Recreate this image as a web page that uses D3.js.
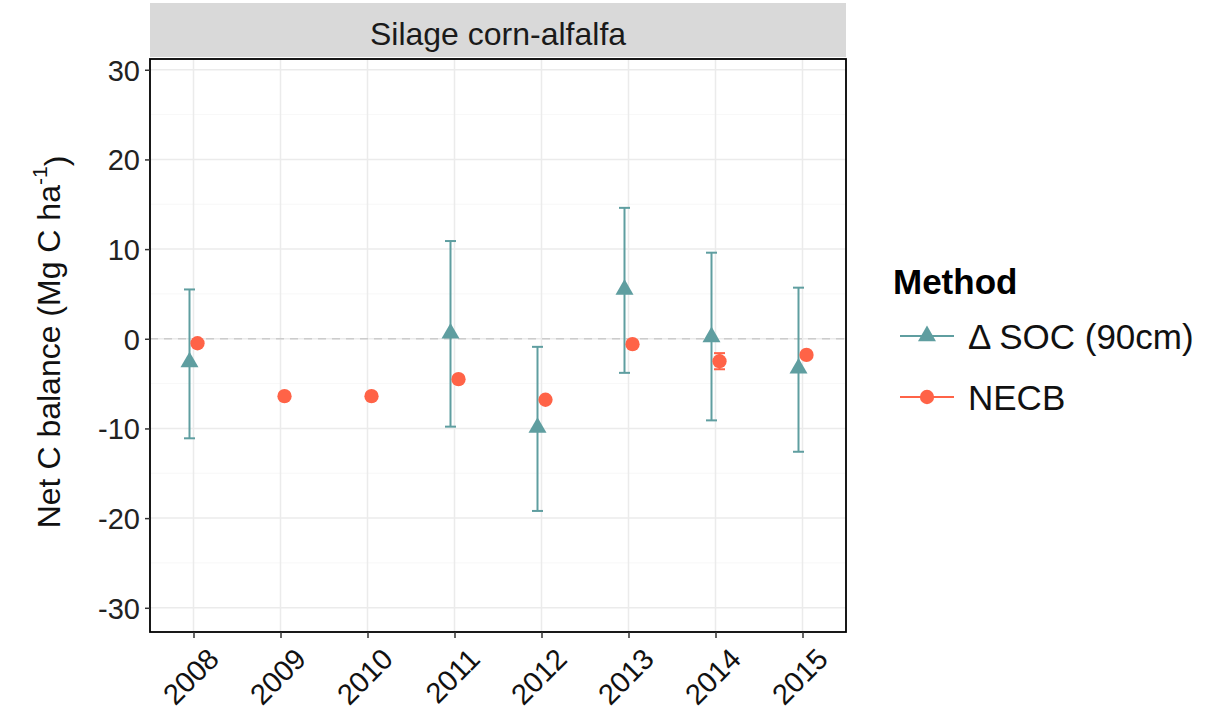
<!DOCTYPE html>
<html>
<head>
<meta charset="utf-8">
<script src="https://cdn.jsdelivr.net/npm/d3@7"></script>
<style>
  body { margin: 0; background: #fff; }
  text { font-family: "Liberation Sans", Arial, sans-serif; }
</style>
</head>
<body>
<div id="chart"></div>
<script>
// data
const years = ["2008", "2009", "2010", "2011", "2012", "2013", "2014", "2015"];
const socMean = [-2.6, null, null, 0.6, -9.9, 5.5, 0.2, -3.3];
const socLow = [-11.1, null, null, -9.8, -19.2, -3.8, -9.1, -12.6];
const socHigh = [5.5, null, null, 10.9, -0.9, 14.6, 9.6, 5.7];
const necbMean = [-0.5, -6.4, -6.4, -4.5, -6.8, -0.6, -2.5, -1.8];
const necbLow = [-0.7, -6.6, -6.6, -4.7, -7.0, -0.8, -3.4, -2.0];
const necbHigh = [-0.3, -6.2, -6.2, -4.3, -6.6, -0.4, -1.6, -1.6];
const yTicks = [-30, -20, -10, 0, 10, 20, 30];

const W = 1223, H = 714;
const panel = {left: 150, right: 846, top: 59, bottom: 632};
const socColor = "#5F9EA0", necbColor = "#FF6347";
const font = "Liberation Sans, Arial, sans-serif";

const svg = d3.select("#chart").append("svg")
    .attr("width", W)
    .attr("height", H);

const x = d3.scalePoint().domain(years).range([panel.left, panel.right]).padding(0.5);
const y = d3.scaleLinear().domain([-32.7, 31.2]).range([panel.bottom, panel.top]);
const dodge = 4;

// strip
svg.append("rect")
    .attr("x", panel.left).attr("y", 3)
    .attr("width", panel.right - panel.left).attr("height", panel.top - 5)
    .attr("fill", "#d9d9d9");
svg.append("text")
    .attr("x", (panel.left + panel.right) / 2).attr("y", 45)
    .attr("text-anchor", "middle")
    .style("font-size", "32px").attr("fill", "#1a1a1a")
    .text("Silage corn-alfalfa");

// grid
const grid = svg.append("g");
d3.range(-25, 31, 10).forEach(function(t){
    grid.append("line")
        .attr("x1", panel.left).attr("x2", panel.right)
        .attr("y1", y(t)).attr("y2", y(t))
        .attr("stroke", "#f5f5f5").attr("stroke-width", 0.8);
});
yTicks.forEach(function(t){
    grid.append("line")
        .attr("x1", panel.left).attr("x2", panel.right)
        .attr("y1", y(t)).attr("y2", y(t))
        .attr("stroke", "#ebebeb").attr("stroke-width", 1.5);
});
years.forEach(function(yr){
    grid.append("line")
        .attr("x1", x(yr)).attr("x2", x(yr))
        .attr("y1", panel.top).attr("y2", panel.bottom)
        .attr("stroke", "#ebebeb").attr("stroke-width", 1.5);
});

// zero line
svg.append("line")
    .attr("x1", panel.left).attr("x2", panel.right)
    .attr("y1", y(0)).attr("y2", y(0))
    .attr("stroke", "#cccccc").attr("stroke-width", 1.3)
    .attr("stroke-dasharray", "8,6");

// error bars
function errorBars(mean, lo, hi, color, off, capW){
    years.forEach(function(yr, i){
        if(mean[i] === null) return;
        const cx = x(yr) + off;
        const g = svg.append("g").attr("stroke", color).attr("stroke-width", 2);
        g.append("line").attr("x1", cx).attr("x2", cx).attr("y1", y(lo[i])).attr("y2", y(hi[i]));
        g.append("line").attr("x1", cx - capW).attr("x2", cx + capW).attr("y1", y(lo[i])).attr("y2", y(lo[i]));
        g.append("line").attr("x1", cx - capW).attr("x2", cx + capW).attr("y1", y(hi[i])).attr("y2", y(hi[i]));
    });
}
errorBars(socMean, socLow, socHigh, socColor, -dodge, 5.5);
errorBars(necbMean, necbLow, necbHigh, necbColor, dodge, 5.5);

const tri = d3.symbol().type(d3.symbolTriangle).size(140);
const circ = d3.symbol().type(d3.symbolCircle).size(160);

years.forEach(function(yr, i){
    if(socMean[i] === null) return;
    svg.append("path")
        .attr("d", tri)
        .attr("transform", "translate(" + (x(yr) - dodge) + "," + y(socMean[i]) + ")")
        .attr("fill", socColor);
});
years.forEach(function(yr, i){
    svg.append("path")
        .attr("d", circ)
        .attr("transform", "translate(" + (x(yr) + dodge) + "," + y(necbMean[i]) + ")")
        .attr("fill", necbColor);
});

// panel border
svg.append("rect")
    .attr("x", panel.left).attr("y", panel.top)
    .attr("width", panel.right - panel.left).attr("height", panel.bottom - panel.top)
    .attr("fill", "none").attr("stroke", "#000").attr("stroke-width", 1.8);

// axes
const yAxis = svg.append("g")
    .attr("transform", "translate(" + panel.left + ",0)")
    .call(d3.axisLeft(y).tickValues(yTicks).tickSize(5).tickPadding(5)
        .tickFormat(function(d){ return String(d); }));
yAxis.select(".domain").remove();
yAxis.selectAll("line").attr("stroke", "#333").attr("stroke-width", 1.5);
yAxis.selectAll("text").style("font-size", "29px").attr("fill", "#222").attr("font-family", font)
    .attr("dy", "0.36em");

const xAxis = svg.append("g")
    .attr("transform", "translate(0," + panel.bottom + ")")
    .call(d3.axisBottom(x).tickSize(6).tickPadding(4));
xAxis.select(".domain").remove();
xAxis.selectAll("line").attr("stroke", "#333").attr("stroke-width", 1.5);
xAxis.selectAll("text")
    .style("font-size", "29px").attr("fill", "#111").attr("font-family", font)
    .attr("text-anchor", "end")
    .attr("y", 0)
    .attr("dy", "0.72em")
    .attr("transform", "translate(12,14) rotate(-45)");

// y title
const yt = svg.append("text")
    .attr("transform", "translate(60,342) rotate(-90)")
    .attr("text-anchor", "middle")
    .style("font-size", "32px").attr("fill", "#111");
yt.append("tspan").text("Net C balance (Mg C ha");
yt.append("tspan").attr("dy", "-0.6em").style("font-size", "21px").text("-1");
yt.append("tspan").attr("dy", "0.6em").text(")");

// legend
const lg = svg.append("g");
lg.append("text").attr("x", 893).attr("y", 294)
    .style("font-size", "35px").style("font-weight", "bold").attr("fill", "#000")
    .text("Method");
const items = [
    {label: "\u0394 SOC (90cm)", color: socColor, sym: tri, y: 336},
    {label: "NECB", color: necbColor, sym: circ, y: 397}
];
items.forEach(function(d){
    lg.append("line").attr("x1", 900).attr("x2", 954).attr("y1", d.y).attr("y2", d.y)
        .attr("stroke", d.color).attr("stroke-width", 2);
    lg.append("path").attr("d", d.sym)
        .attr("transform", "translate(927," + d.y + ")")
        .attr("fill", d.color);
    lg.append("text").attr("x", 968).attr("y", d.y + 12.5)
        .style("font-size", "35px").attr("fill", "#111")
        .text(d.label);
});
</script>
</body>
</html>
